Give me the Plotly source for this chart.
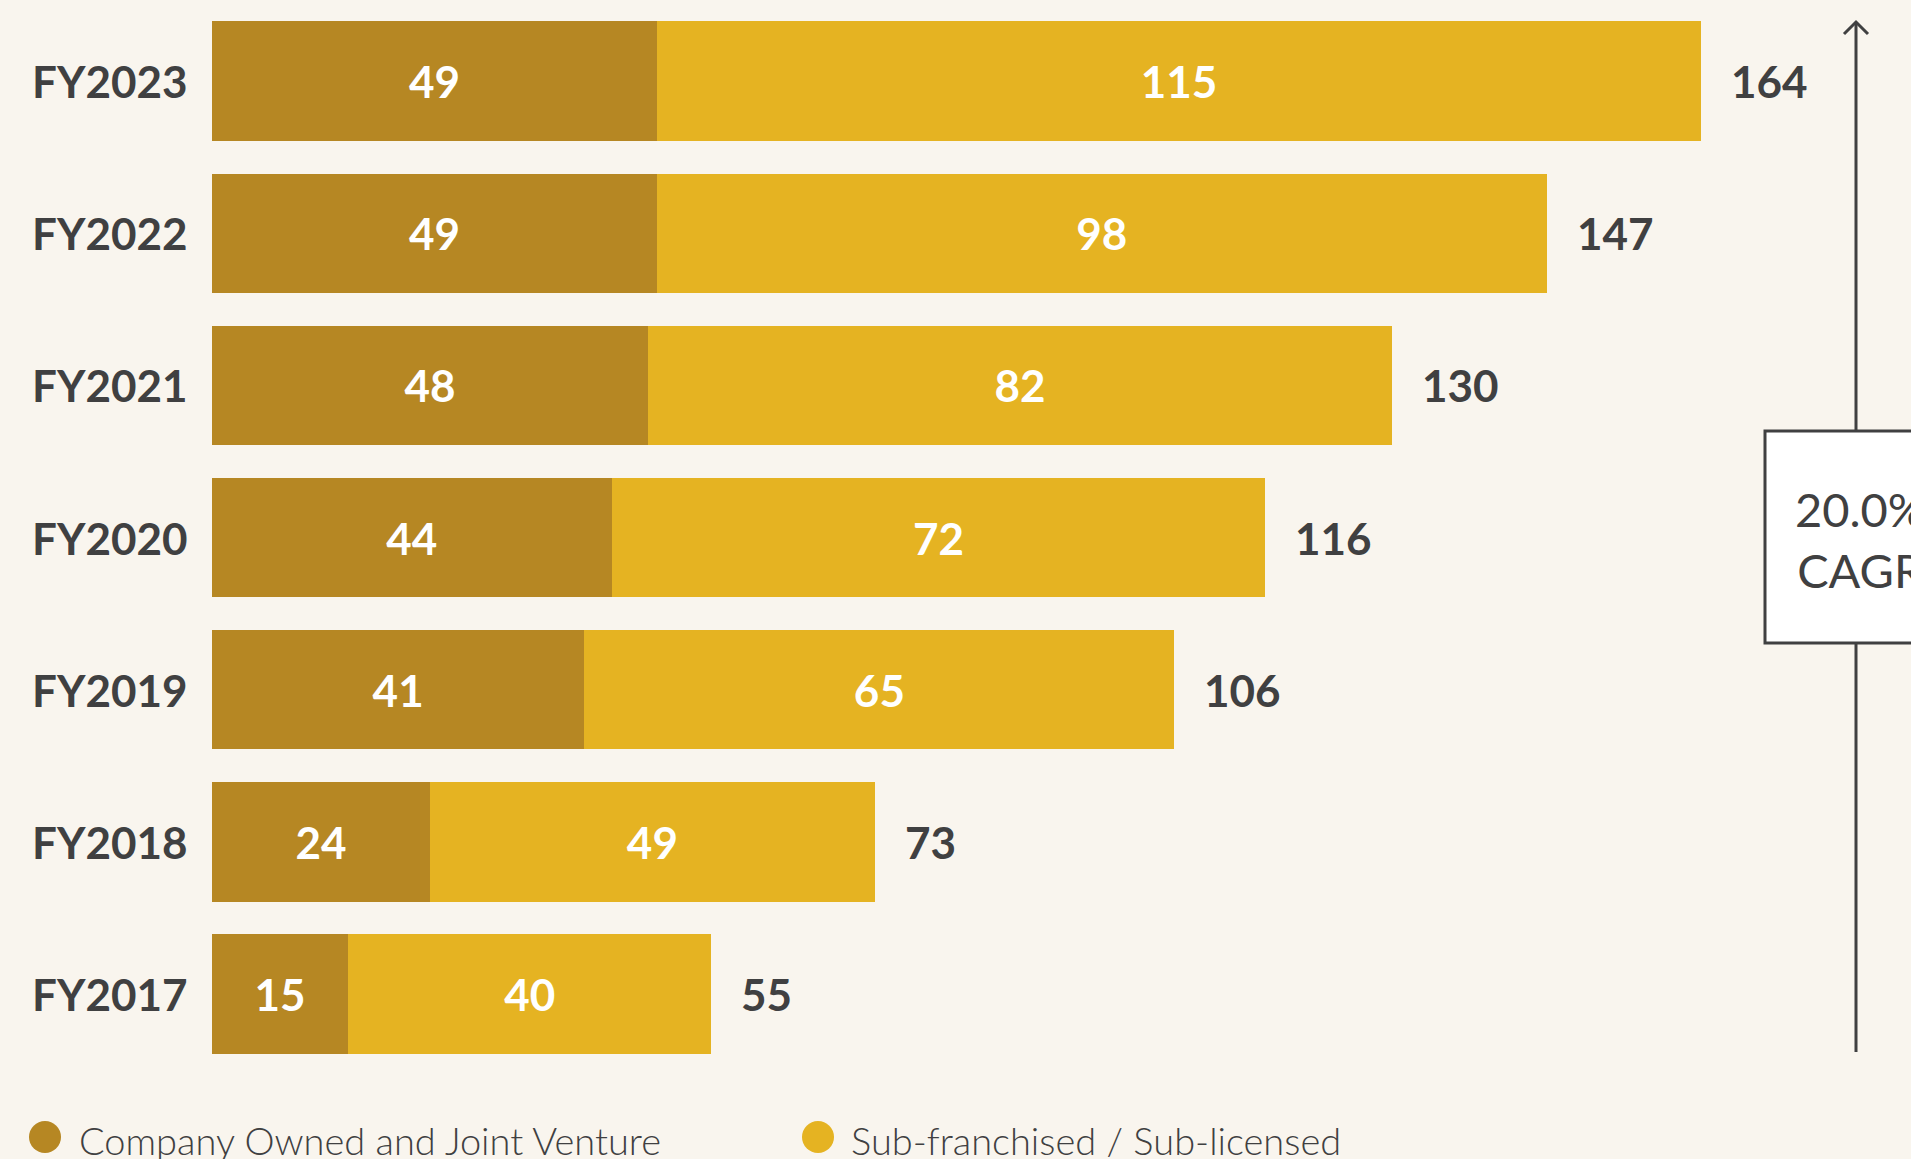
import plotly.graph_objects as go

# Store counts by fiscal year
years = ["FY2017", "FY2018", "FY2019", "FY2020", "FY2021", "FY2022", "FY2023"]
company_owned_jv = [15, 24, 41, 44, 48, 49, 49]
sub_franchised = [40, 49, 65, 72, 82, 98, 115]
totals = [a + b for a, b in zip(company_owned_jv, sub_franchised)]

series_names = ["Company Owned and Joint Venture", "Sub-franchised / Sub-licensed"]
series_colors = ["#B68723", "#E5B322"]
cagr_text = "20.0%<br>CAGR"

BG = "#F9F5EE"
INK = "#404041"
FONT = "Lato"

W, H = 1911, 1159
ML, MR, MT, MB = 212, 0, 5, 89
PW, PH = W - ML - MR, H - MT - MB
PX_PER_UNIT = 9.08
X_MAX = PW / PX_PER_UNIT


def px_x(px):
    return (px - ML) / PW


def px_y(py):
    return (H - MB - py) / PH


fig = go.Figure()
for vals, name, color in zip([company_owned_jv, sub_franchised], series_names, series_colors):
    fig.add_trace(go.Bar(
        y=years, x=vals, name=name, orientation="h",
        marker=dict(color=color, line=dict(width=0)),
        text=[str(v) for v in vals], textposition="inside",
        insidetextanchor="middle", constraintext="none",
        textfont=dict(family=FONT, size=44, color="white", weight="bold"),
        showlegend=False, hoverinfo="x+y+name",
    ))

annotations = []
# Category labels, left aligned
for y in years:
    annotations.append(dict(
        x=px_x(30), xref="paper", y=y, yref="y", text=y, showarrow=False,
        xanchor="left", yanchor="middle",
        font=dict(family=FONT, size=44, color=INK, weight="bold"),
    ))
# Totals to the right of each bar
for y, t in zip(years, totals):
    annotations.append(dict(
        x=t, xref="x", y=y, yref="y", text=str(t), showarrow=False,
        xanchor="left", yanchor="middle", xshift=28,
        font=dict(family=FONT, size=44, color=INK, weight="bold"),
    ))

# CAGR arrow with label box
ARROW_X = 1856
shapes = [
    dict(type="line", xref="paper", yref="paper",
         x0=px_x(ARROW_X), x1=px_x(ARROW_X), y0=px_y(1052), y1=px_y(22),
         line=dict(color=INK, width=3)),
    dict(type="path", xref="paper", yref="paper",
         path=f"M {px_x(ARROW_X - 12)} {px_y(34)} L {px_x(ARROW_X)} {px_y(22)} L {px_x(ARROW_X + 12)} {px_y(34)}",
         line=dict(color=INK, width=3)),
    dict(type="rect", xref="paper", yref="paper",
         x0=px_x(1765), x1=px_x(1950), y0=px_y(643), y1=px_y(431),
         fillcolor="white", line=dict(color=INK, width=3)),
]
annotations.append(dict(
    x=px_x(ARROW_X + 4), xref="paper", y=px_y(539), yref="paper", text=cagr_text,
    showarrow=False, xanchor="center", yanchor="middle", align="center",
    font=dict(family=FONT, size=47, color=INK),
))

# Legend drawn as circles + labels along the bottom
legend_items = [(45, 77), (818, 849)]
for (cx, tx), name, color in zip(legend_items, series_names, series_colors):
    shapes.append(dict(
        type="circle", xref="paper", yref="paper", xsizemode="pixel", ysizemode="pixel",
        xanchor=px_x(cx), yanchor=px_y(1137), x0=-16, x1=16, y0=-16, y1=16,
        fillcolor=color, line=dict(width=0),
    ))
    annotations.append(dict(
        x=px_x(tx), xref="paper", y=px_y(1140), yref="paper", text=name,
        showarrow=False, xanchor="left", yanchor="middle",
        font=dict(family=FONT, size=38, color=INK, weight=300),
    ))

fig.update_layout(
    width=W, height=H,
    margin=dict(l=ML, r=MR, t=MT, b=MB, pad=0),
    paper_bgcolor=BG, plot_bgcolor=BG,
    barmode="stack", bargap=0.215,
    xaxis=dict(range=[0, X_MAX], visible=False, fixedrange=True),
    yaxis=dict(categoryorder="array", categoryarray=years, range=[-0.5, 6.5],
               showticklabels=False, showgrid=False, zeroline=False, ticks=""),
    shapes=shapes, annotations=annotations, showlegend=False,
)

fig.write_html("out.html", config={"displayModeBar": False})
